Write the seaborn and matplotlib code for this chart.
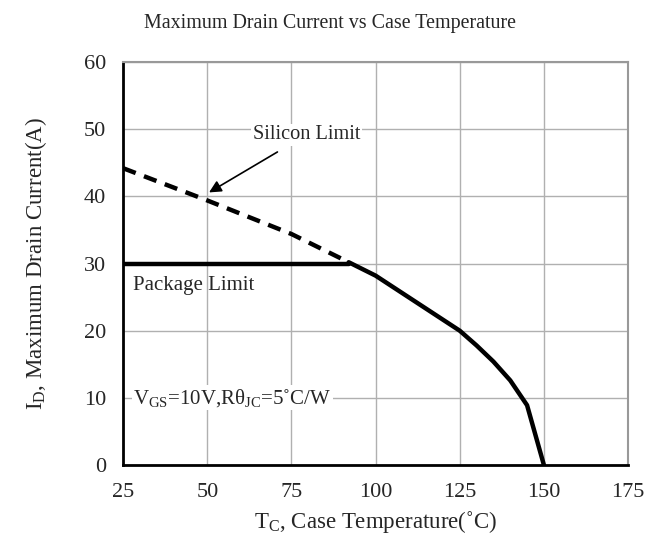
import numpy as np
import pandas as pd
import seaborn as sns
import matplotlib.pyplot as plt

# values
silicon_temp = [25, 50, 75, 92]
silicon_current = [44.2, 39.4, 34.4, 30.2]
package_temp = [25, 92]
package_current = [30, 30]
derate_temp = [92, 100, 125, 130, 135, 140, 145, 150]
derate_current = [30.2, 28.2, 20.0, 17.8, 15.4, 12.6, 8.9, 0]

x_ticks = [25, 50, 75, 100, 125, 150, 175]
y_ticks = [0, 10, 20, 30, 40, 50, 60]

sns.set_style("white")
plt.rcParams['font.family'] = ['Liberation Serif', 'DejaVu Serif']
plt.rcParams['mathtext.fontset'] = 'custom'
plt.rcParams['mathtext.rm'] = 'Liberation Serif'

fig = plt.figure(figsize=(6.59, 5.36), dpi=100)
ax = fig.add_axes([0.187, 0.1325, 0.766, 0.7515])

silicon = pd.DataFrame({'T': silicon_temp, 'I': silicon_current})
package = pd.DataFrame({'T': package_temp, 'I': package_current})
derate = pd.DataFrame({'T': derate_temp, 'I': derate_current})

sns.lineplot(data=silicon, x='T', y='I', ax=ax, color='black', lw=3.2,
             linestyle=(0, (3, 2)), zorder=3)
sns.lineplot(data=package, x='T', y='I', ax=ax, color='black', lw=3.2, zorder=3)
sns.lineplot(data=derate, x='T', y='I', ax=ax, color='black', lw=3.2, zorder=3)

ax.set_xlim(25, 175)
ax.set_ylim(0, 60)
ax.set_xticks(x_ticks)
ax.set_yticks(y_ticks)
ax.grid(True, color='#b0b0b0', lw=1)
ax.tick_params(direction='in', length=5, labelsize=16, color='#555555')
ax.tick_params(axis='x', pad=13)
ax.tick_params(axis='y', pad=12.5)
for side in ['top', 'right']:
    ax.spines[side].set_color('#999999')
    ax.spines[side].set_linewidth(1.5)
for side in ['left', 'bottom']:
    ax.spines[side].set_color('black')
    ax.spines[side].set_linewidth(2)

ax.set_xlabel(r'T$\mathregular{_C}$, Case Temperature(˚C)', fontsize=16.5, labelpad=5)
ax.set_ylabel(r'I$\mathregular{_D}$, Maximum Drain Current(A)', fontsize=16.5, labelpad=25)
fig.suptitle('Maximum Drain Current vs Case Temperature', fontsize=14.4, y=0.973)

box = dict(facecolor='white', edgecolor='none', pad=1)
ax.annotate('Silicon Limit', xy=(50.5, 40.6), xytext=(79.5, 49.2), fontsize=14.6,
            ha='center', va='center', bbox=box,
            arrowprops=dict(arrowstyle='-|>', color='black', lw=1.2,
                            mutation_scale=18, shrinkA=9, shrinkB=0))
ax.text(28, 26.8, 'Package Limit', fontsize=15, va='center')
ax.text(28, 10, r'V$\mathregular{_{GS}}$=10V,R$\mathregular{\theta_{JC}}$=5˚C/W',
        fontsize=15, va='center', bbox=box)

fig.savefig('out.png', dpi=100)
